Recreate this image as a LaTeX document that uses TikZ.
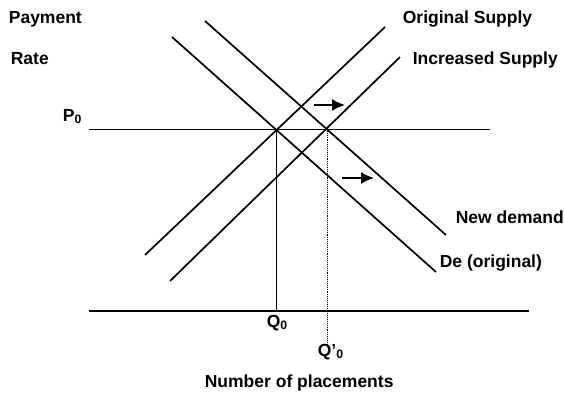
\documentclass[tikz,border=0pt]{standalone}
\usepackage{fontspec}
\setmainfont{Liberation Sans}
\usetikzlibrary{arrows.meta, positioning}

\begin{document}
\begin{tikzpicture}[x=1pt, y=-1pt, >={Latex[length=13pt,width=12pt]}, line width=1.7pt,
    lbl/.style={font=\bfseries\fontsize{17.5}{20}\selectfont, inner sep=0pt, anchor=base west}]
          \useasboundingbox (0,0) rectangle (564,394);
          % axis labels
          \node[lbl] (pay) at (8,23) {Payment};
          \node[lbl] (rate) at (10,64) {Rate};
          \node[lbl] (p0) at (62,121) {P\textsubscript{0}};
          \node[lbl] (q0) at (266,327) {Q\textsubscript{0}};
          \node[lbl] (q0new) at (317,356) {Q’\textsubscript{0}};
          \node[lbl] (xlab) at (204,387) {Number of placements};
          % curve labels
          \node[lbl] (sorig) at (402,23) {Original Supply};
          \node[lbl] (snew) at (412,64) {Increased Supply};
          \node[lbl] (dnew) at (455,223) {New demand};
          \node[lbl] (dorig) at (439,267) {De (original)};
          % end points
          \coordinate (pL) at (89,129);
          \coordinate (pR) at (490,129);
          \coordinate (axL) at (89,311);
          \coordinate (axR) at (529,311);
          \coordinate (e1) at (276,129);
          \coordinate (e2) at (327,129);
          \coordinate (e1b) at (276,311);
          \coordinate (e2b) at (327,345);
          \coordinate (s1a) at (145,255);
          \coordinate (s1b) at (385,27);
          \coordinate (s2a) at (170,281);
          \coordinate (s2b) at (400,57);
          \coordinate (d1a) at (172,37);
          \coordinate (d1b) at (436,272);
          \coordinate (d2a) at (205,21);
          \coordinate (d2b) at (446,235);
          \coordinate (a1) at (314,105);
          \coordinate (a1e) at (345,105);
          \coordinate (a2) at (342,178);
          \coordinate (a2e) at (374,178);
          % price line and axis
          \draw[line width=0.9pt] (pL) -- (pR);
          \draw[line width=2pt] (axL) -- (axR);
          % quantities
          \draw[line width=0.9pt] (e1) -- (e1b);
          \draw[line width=0.9pt, densely dotted] (e2) -- (e2b);
          % supply and demand
          \draw (s1a) -- (s1b);
          \draw (s2a) -- (s2b);
          \draw (d1a) -- (d1b);
          \draw (d2a) -- (d2b);
          % shifts
          \draw[->, line width=1.8pt] (a1) -- (a1e);
          \draw[->, line width=1.8pt] (a2) -- (a2e);
      \end{tikzpicture}
\end{document}
